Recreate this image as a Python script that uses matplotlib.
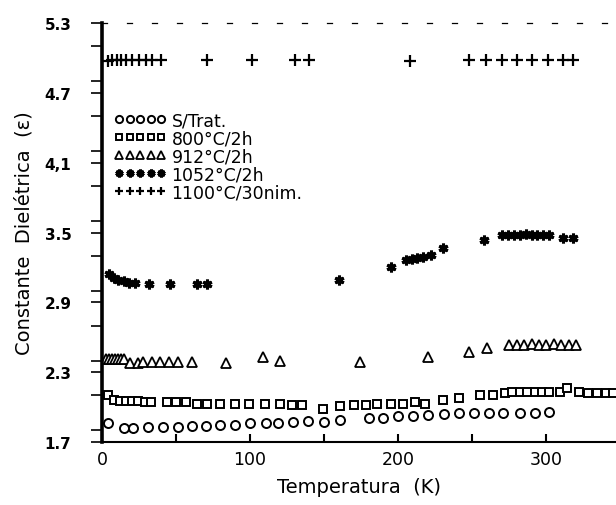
import matplotlib.pyplot as plt
from matplotlib.ticker import MultipleLocator

# temperatures (K) and dielectric constants
t_strat = [4, 15, 21, 31, 41, 51, 61, 70, 80, 90, 100, 111, 119, 129, 139, 150, 161,
           180, 190, 200, 210, 220, 231, 241, 251, 261, 271, 282, 292, 302]
e_strat = [1.86, 1.82, 1.82, 1.83, 1.83, 1.83, 1.84, 1.84, 1.85, 1.85, 1.86, 1.86,
           1.86, 1.87, 1.88, 1.87, 1.89, 1.91, 1.91, 1.92, 1.92, 1.93, 1.94, 1.95,
           1.95, 1.95, 1.95, 1.95, 1.95, 1.96]

t_800 = [4, 8, 12, 16, 20, 24, 29, 33, 44, 50, 57, 64, 71, 80, 90, 99, 110, 120, 128,
         135, 149, 161, 170, 178, 186, 195, 203, 211, 218, 230, 241, 255, 264, 272, 277,
         282, 287, 292, 297, 302, 309, 314, 322, 328, 334, 340, 345]
e_800 = [2.10, 2.06, 2.05, 2.05, 2.05, 2.05, 2.04, 2.04, 2.04, 2.04, 2.04, 2.03, 2.03,
         2.03, 2.03, 2.03, 2.03, 2.03, 2.02, 2.02, 1.98, 2.01, 2.02, 2.02, 2.03, 2.03,
         2.03, 2.04, 2.03, 2.06, 2.08, 2.10, 2.10, 2.12, 2.13, 2.13, 2.13, 2.13, 2.13,
         2.13, 2.13, 2.16, 2.13, 2.12, 2.12, 2.12, 2.12]

t_912 = [3, 5, 7, 9, 11, 13, 15, 19, 24, 28, 34, 39, 45, 51, 61, 84, 109, 120, 174,
         220, 248, 260, 275, 280, 285, 290, 295, 300, 305, 310, 315, 320]
e_912 = [2.41, 2.41, 2.41, 2.41, 2.41, 2.41, 2.41, 2.38, 2.38, 2.39, 2.39, 2.39, 2.39,
         2.39, 2.39, 2.38, 2.43, 2.40, 2.39, 2.43, 2.47, 2.51, 2.53, 2.53, 2.53, 2.54,
         2.53, 2.53, 2.54, 2.53, 2.53, 2.53]

t_1052 = [5, 8, 11, 15, 18, 22, 32, 46, 64, 71, 160, 195, 205, 209, 213, 217, 222, 230,
          258, 270, 274, 278, 282, 286, 290, 294, 298, 302, 311, 318]
e_1052 = [3.14, 3.11, 3.09, 3.08, 3.07, 3.07, 3.06, 3.06, 3.06, 3.06, 3.09, 3.20, 3.26,
          3.27, 3.28, 3.29, 3.31, 3.37, 3.44, 3.48, 3.48, 3.48, 3.48, 3.49, 3.48, 3.48,
          3.48, 3.48, 3.45, 3.45]

t_1100 = [4, 7, 10, 13, 16, 20, 25, 30, 34, 40, 71, 101, 130, 140, 208, 248, 259, 270,
          280, 290, 301, 311, 318]
e_1100 = [4.97, 4.98, 4.98, 4.98, 4.98, 4.98, 4.98, 4.98, 4.98, 4.98, 4.98, 4.98, 4.98,
          4.98, 4.97, 4.98, 4.98, 4.98, 4.98, 4.98, 4.98, 4.98, 4.98]

labels = ['S/Trat.', '800°C/2h', '912°C/2h', '1052°C/2h', '1100°C/30nim.']

fig = plt.figure(figsize=(6.16, 5.06), dpi=100)
ax = fig.add_axes([0.1655, 0.1245, 0.8345, 0.828])

mk = dict(linestyle='none', color='black')
ax.plot(t_strat, e_strat, marker='o', ms=6.5, mfc='white', mew=1.4, label=labels[0], **mk)
ax.plot(t_800, e_800, marker='s', ms=6, mfc='white', mew=1.4, label=labels[1], **mk)
ax.plot(t_912, e_912, marker='^', ms=6.5, mfc='white', mew=1.3, label=labels[2], **mk)
ax.plot(t_1052, e_1052, marker=(6, 2, 0), ms=7, mew=2.2, label=labels[3], **mk)
ax.plot(t_1100, e_1100, marker='+', ms=8, mew=1.6, label=labels[4], **mk)

ax.set_xlim(0, 347)
ax.set_ylim(1.7, 5.3)
ax.xaxis.set_major_locator(MultipleLocator(100))
ax.xaxis.set_minor_locator(MultipleLocator(50))
ax.yaxis.set_minor_locator(MultipleLocator(0.3))
ax.set_yticks([1.7, 2.3, 2.9, 3.5, 4.1, 4.7, 5.3])
ax.set_yticklabels(['1.7', '2.3', '2.9', '3.5', '4,1', '4.7', '5.3'], fontweight='bold')
ax.tick_params(axis='y', which='both', direction='out', length=8, width=1.2,
               labelsize=11, pad=14)
ax.tick_params(axis='x', which='both', direction='in', length=6, width=1.5,
               labelsize=12.5, pad=6)

ax.spines['right'].set_visible(False)
ax.spines['left'].set_linewidth(2.6)
ax.spines['bottom'].set_linewidth(1.5)
ax.spines['top'].set_linewidth(0.9)
ax.spines['top'].set_linestyle((0, (4, 16)))

ax.set_xlabel('Temperatura  (K)', fontsize=14, labelpad=6)
ax.set_ylabel('Constante  Dielétrica  (ε)', fontsize=14, labelpad=8)

leg = ax.legend(loc='upper left', bbox_to_anchor=(0.0, 0.818), numpoints=5,
                frameon=False, fontsize=12.5, handlelength=3.0, handletextpad=0.3,
                labelspacing=0.0, borderaxespad=0.3, markerscale=0.8)

fig.savefig('out.png', dpi=100)
